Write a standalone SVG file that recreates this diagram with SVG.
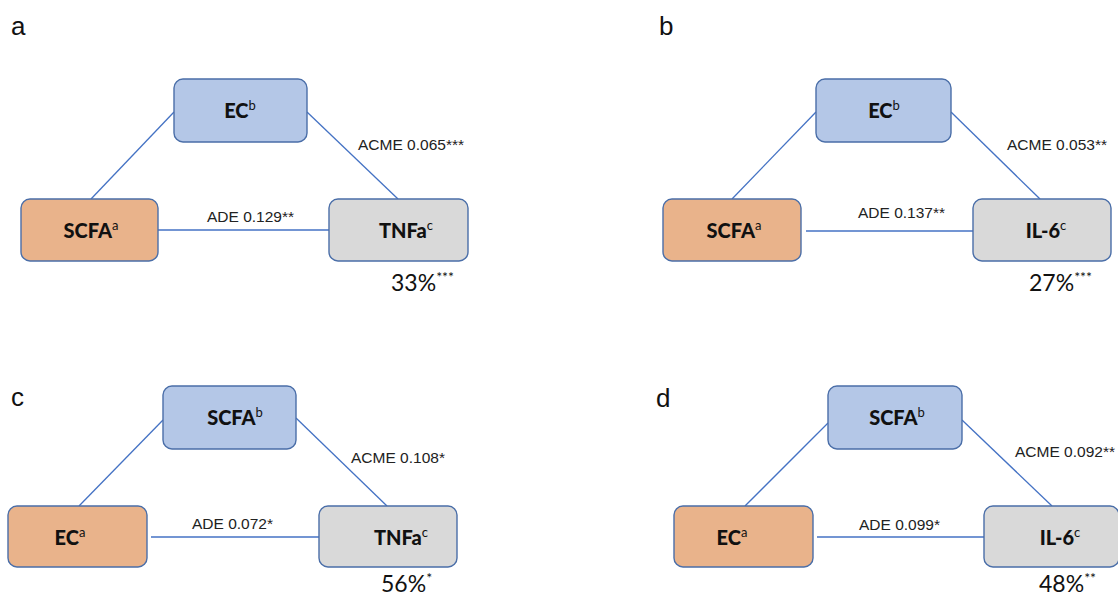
<svg xmlns="http://www.w3.org/2000/svg" width="1118" height="595" viewBox="0 0 1118 595">
<style>
.bg{fill:#ffffff}
.box{stroke:#4a6ea8;stroke-width:1.4}
.blue{fill:#b4c7e7}
.orange{fill:#e9b38b}
.gray{fill:#d9d9d9}
.conn line{stroke:#4472c4;stroke-width:1.3}
.lbl{font-family:"Liberation Sans",Arial,sans-serif;font-size:15.5px;fill:#222}
.panel{font-family:"Liberation Sans",Arial,sans-serif;font-size:26px;fill:#111}
.name{font-family:Lato,"Open Sans",sans-serif;font-weight:900;font-size:20px;fill:#111;text-anchor:middle}
.sup{font-weight:normal;font-size:13px}
.pct{font-family:Lato,"Open Sans",sans-serif;font-size:23px;fill:#111}
.star{font-size:14px}
</style>
<rect class="bg" x="0" y="0" width="1118" height="595"/>

<g id="connectors" class="conn">
  <line x1="91" y1="199" x2="174" y2="112"/>
  <line x1="307" y1="112" x2="398" y2="199"/>
  <line x1="158" y1="230" x2="329" y2="230"/>
  <line x1="732" y1="199" x2="816" y2="112"/>
  <line x1="951" y1="112" x2="1040" y2="199"/>
  <line x1="806" y1="231" x2="973" y2="231"/>
  <line x1="79" y1="506" x2="163" y2="420"/>
  <line x1="296" y1="418" x2="387" y2="506"/>
  <line x1="151" y1="537" x2="319" y2="537"/>
  <line x1="745" y1="506" x2="828" y2="423"/>
  <line x1="962" y1="420" x2="1052" y2="506"/>
  <line x1="817" y1="537" x2="984" y2="537"/>
</g>

<g id="edge-labels">
  <text class="lbl" x="207" y="222">ADE 0.129**</text>
  <text class="lbl" x="358" y="150">ACME 0.065***</text>
  <text class="lbl" x="858" y="218">ADE 0.137**</text>
  <text class="lbl" x="1007" y="150">ACME 0.053**</text>
  <text class="lbl" x="192" y="529">ADE 0.072*</text>
  <text class="lbl" x="351" y="463">ACME 0.108*</text>
  <text class="lbl" x="859" y="530">ADE 0.099*</text>
  <text class="lbl" x="1015" y="457">ACME 0.092**</text>
</g>

<g id="panel-labels">
  <text class="panel" x="11" y="35">a</text>
  <text class="panel" x="659" y="35">b</text>
  <text class="panel" x="11" y="406">c</text>
  <text class="panel" x="656" y="407">d</text>
</g>

<g id="a-EC">
  <rect class="box blue" x="174" y="79" width="133" height="63" rx="9"/>
  <text class="name" x="240" y="118">EC<tspan class="sup" dy="-8">b</tspan></text>
</g>
<g id="a-SCFA">
  <rect class="box orange" x="21" y="199" width="137" height="62" rx="9"/>
  <text class="name" x="91" y="238">SCFA<tspan class="sup" dy="-8">a</tspan></text>
</g>
<g id="a-TNFa">
  <rect class="box gray" x="329" y="199" width="139" height="62" rx="9"/>
  <text class="name" x="406" y="238">TNFa<tspan class="sup" dy="-8">c</tspan></text>
</g>
<g id="a-pct">
  <text class="pct" x="391" y="291">33%<tspan class="star" dy="-9">***</tspan></text>
</g>

<g id="b-EC">
  <rect class="box blue" x="816" y="79" width="135" height="63" rx="9"/>
  <text class="name" x="884" y="118">EC<tspan class="sup" dy="-8">b</tspan></text>
</g>
<g id="b-SCFA">
  <rect class="box orange" x="663" y="199" width="138" height="62" rx="9"/>
  <text class="name" x="734" y="238">SCFA<tspan class="sup" dy="-8">a</tspan></text>
</g>
<g id="b-IL6">
  <rect class="box gray" x="973" y="199" width="138" height="62" rx="9"/>
  <text class="name" x="1046" y="238">IL-6<tspan class="sup" dy="-8">c</tspan></text>
</g>
<g id="b-pct">
  <text class="pct" x="1029" y="291">27%<tspan class="star" dy="-9">***</tspan></text>
</g>

<g id="c-SCFA">
  <rect class="box blue" x="163" y="386" width="133" height="63" rx="9"/>
  <text class="name" x="235" y="425">SCFA<tspan class="sup" dy="-8">b</tspan></text>
</g>
<g id="c-EC">
  <rect class="box orange" x="8" y="506" width="139" height="61" rx="9"/>
  <text class="name" x="70" y="545">EC<tspan class="sup" dy="-8">a</tspan></text>
</g>
<g id="c-TNFa">
  <rect class="box gray" x="319" y="506" width="138" height="61" rx="9"/>
  <text class="name" x="401" y="545">TNFa<tspan class="sup" dy="-8">c</tspan></text>
</g>
<g id="c-pct">
  <text class="pct" x="381" y="592">56%<tspan class="star" dy="-9">*</tspan></text>
</g>

<g id="d-SCFA">
  <rect class="box blue" x="828" y="386" width="134" height="63" rx="9"/>
  <text class="name" x="897" y="425">SCFA<tspan class="sup" dy="-8">b</tspan></text>
</g>
<g id="d-EC">
  <rect class="box orange" x="674" y="506" width="139" height="61" rx="9"/>
  <text class="name" x="732" y="545">EC<tspan class="sup" dy="-8">a</tspan></text>
</g>
<g id="d-IL6">
  <rect class="box gray" x="984" y="506" width="135" height="61" rx="9"/>
  <text class="name" x="1060" y="545">IL-6<tspan class="sup" dy="-8">c</tspan></text>
</g>
<g id="d-pct">
  <text class="pct" x="1039" y="592">48%<tspan class="star" dy="-9">**</tspan></text>
</g>
</svg>
